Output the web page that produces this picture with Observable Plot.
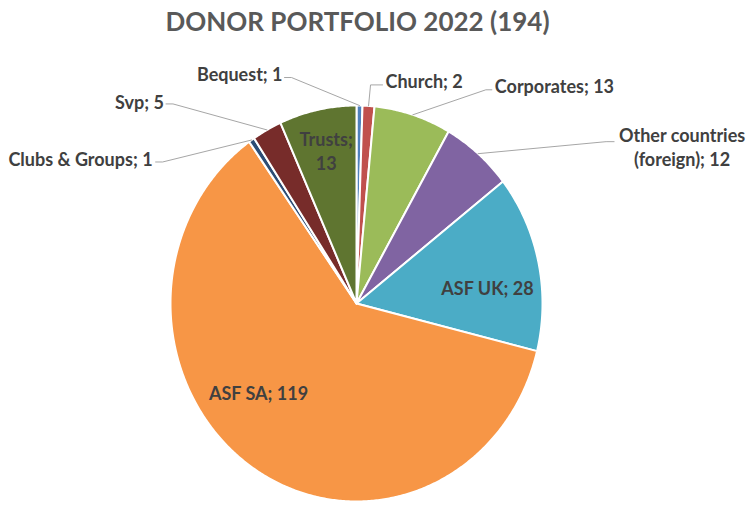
<!DOCTYPE html>
<html>
<head>
<meta charset="utf-8">
<script src="https://cdn.jsdelivr.net/npm/d3@7"></script>
<script src="https://cdn.jsdelivr.net/npm/@observablehq/plot@0.6"></script>
<style>
  html, body { margin: 0; padding: 0; background: #fff; }
  #chart svg { display: block; }
</style>
</head>
<body>
<div id="chart"></div>
<script>
// ---- data ----
const title = "DONOR PORTFOLIO 2022 (194)";
const categories = ["Bequest", "Church", "Corporates", "Other countries (foreign)", "ASF UK", "ASF SA", "Clubs & Groups", "Svp", "Trusts"];
const values = [1, 2, 13, 12, 28, 119, 1, 5, 13];
const colors = ["#4F81BD", "#C0504D", "#9BBB59", "#8064A2", "#4BACC6", "#F79646", "#2C4D75", "#772C2A", "#5F7530"];

// ---- layout (not data) ----
const W = 752, H = 505;
const cx = 356, cy = 303, rx = 186, ry = 198;
// label placement relative to the slice's mid-angle point on the rim (or inside at factor k)
const labelLayout = {
  "Bequest":                  {out: true,  anchor: "end",    t: [-77, -32], elbow: [-68, -28], attach: [-75, -28]},
  "Church":                   {out: true,  anchor: "start",  t: [17, -26],  elbow: [2, -21],   attach: [14, -21]},
  "Corporates":               {out: true,  anchor: "start",  t: [82, -29],  elbow: [73, -25],  attach: [79, -25]},
  "Other countries (foreign)":{out: true,  anchor: "middle", t: [204, -7],  elbow: [128, -12], attach: [136, -12], br: " ("},
  "ASF UK":                   {out: false, k: 0.72, t: [0, 14]},
  "ASF SA":                   {out: false, k: 0.6,  t: [-35, -9]},
  "Clubs & Groups":           {out: true,  anchor: "end",    t: [-99, 18],  elbow: [-89, 22],  attach: [-96, 22]},
  "Svp":                      {out: true,  anchor: "end",    t: [-103, -29], elbow: [-94, -26], attach: [-101, -26]},
  "Trusts":                   {out: false, k: 0.78, t: [0, -2], br: "; "}
};

const total = d3.sum(values);
const ends = d3.cumsum(values);
function pt(deg, k = 1) {
  const a = deg * Math.PI / 180;
  return [cx + rx * k * Math.sin(a), cy - ry * k * Math.cos(a)];
}

const slices = categories.map((name, i) => {
  const a0 = (ends[i] - values[i]) / total * 360;
  const a1 = ends[i] / total * 360;
  const pts = [{x: cx, y: cy}];
  const n = Math.max(2, Math.ceil((a1 - a0) / 0.5));
  for (let j = 0; j <= n; j++) {
    const [x, y] = pt(a0 + (a1 - a0) * j / n);
    pts.push({x, y});
  }
  return {name, value: values[i], color: colors[i], a0, a1, mid: (a0 + a1) / 2, pts};
});

const leaders = [];
const labels = [];
for (const s of slices) {
  const L = labelLayout[s.name];
  let text = `${s.name}; ${s.value}`;
  if (L.br === " (") text = text.replace(" (", "\n(");
  if (L.br === "; ") text = text.replace("; ", ";\n");
  if (L.out) {
    const [px, py] = pt(s.mid, 1);
    leaders.push({name: s.name, x: px, y: py});
    leaders.push({name: s.name, x: px + L.elbow[0], y: py + L.elbow[1]});
    leaders.push({name: s.name, x: px + L.attach[0], y: py + L.attach[1]});
    labels.push({text, anchor: L.anchor, x: px + L.t[0], y: py + L.t[1]});
  } else {
    const [px, py] = pt(s.mid, L.k);
    labels.push({text, anchor: "middle", x: px + L.t[0], y: py + L.t[1]});
  }
}

const font = "Lato, 'Open Sans', sans-serif";
const textStyle = {fill: "#404040", fontSize: 18, fontWeight: "bold", lineAnchor: "middle", lineHeight: 1.33};

const chart = Plot.plot({
  width: W,
  height: H,
  margin: 0,
  x: {domain: [0, W], range: [0, W], axis: null},
  y: {domain: [0, H], range: [0, H], axis: null},
  style: {fontFamily: font, background: "#fff"},
  marks: [
    ...slices.map(s => Plot.line(s.pts, {
      x: "x", y: "y", curve: "linear-closed",
      fill: s.color, stroke: "#fff", strokeWidth: 2, strokeLinejoin: "round"
    })),
    Plot.line(leaders, {x: "x", y: "y", z: "name", stroke: "#A6A6A6", strokeWidth: 1}),
    ...["start", "middle", "end"].map(a => Plot.text(labels.filter(d => d.anchor === a), {
      x: "x", y: "y", text: "text", textAnchor: a, ...textStyle
    })),
    Plot.text([title], {
      frameAnchor: "top", dx: -19, dy: 22, lineAnchor: "middle",
      fill: "#595959", fontSize: 26, fontWeight: "bold"
    })
  ]
});
document.getElementById("chart").appendChild(chart);
</script>
</body>
</html>
